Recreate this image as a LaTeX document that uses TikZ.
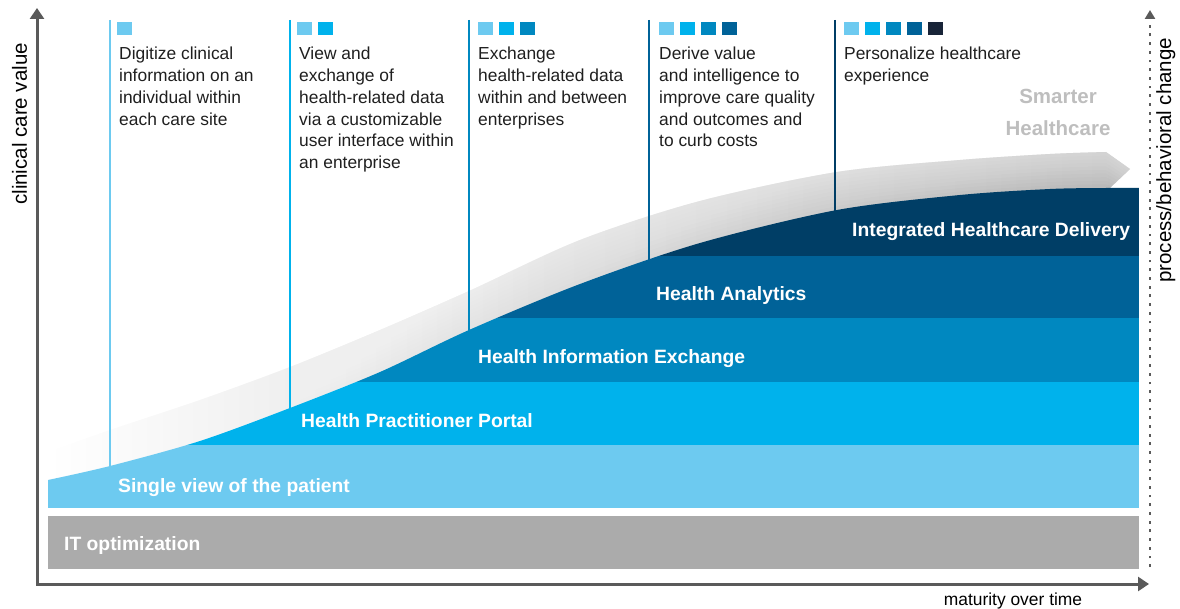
\documentclass[tikz,border=0pt]{standalone}
\usepackage{fontspec}
\setmainfont{Liberation Sans}
\usetikzlibrary{arrows.meta,calc}

\begin{document}
\begin{tikzpicture}[x=1pt,y=-1pt,
    bandlabel/.style={anchor=base west,inner sep=0pt,text=white,font=\fontsize{19.3}{23}\selectfont\bfseries},
    steptext/.style={anchor=base west,align=left,inner sep=0pt,text=black!88,font=\fontsize{17.4}{21.7}\selectfont},
    axislabel/.style={anchor=base west,inner sep=0pt,text=black,font=\fontsize{20.5}{24}\selectfont},
    sheen/.style={fill=white,fill opacity=0.06}]
    \definecolor{hc_gray}{RGB}{171,171,171}
    \definecolor{hc_lblue}{RGB}{109,202,240}
    \definecolor{hc_cyan}{RGB}{0,178,236}
    \definecolor{hc_mid}{RGB}{0,136,192}
    \definecolor{hc_dark}{RGB}{0,98,152}
    \definecolor{hc_navy}{RGB}{0,62,102}
    \definecolor{hc_black}{RGB}{24,36,56}
    \definecolor{hc_swoosh}{RGB}{184,184,184}
    \definecolor{hc_smart}{RGB}{190,190,190}
    \definecolor{hc_axis}{RGB}{90,90,90}
    \useasboundingbox (0,0) rectangle (1180,609);

    % upper and lower edge of the gray arrow
    \coordinate (t1) at (48,452);
    \coordinate (t2) at (110,430);
    \coordinate (t3) at (200,400);
    \coordinate (t4) at (290,367);
    \coordinate (t5) at (380,330);
    \coordinate (t6) at (469,291);
    \coordinate (t7) at (580,240);
    \coordinate (t8) at (700,201);
    \coordinate (t9) at (837,172);
    \coordinate (t10) at (960,160);
    \coordinate (t11) at (1050,154);
    \coordinate (t12) at (1106,152);
    \coordinate (b1) at (48,480);
    \coordinate (b2) at (110,466);
    \coordinate (b3) at (200,441);
    \coordinate (b4) at (290,408);
    \coordinate (b5) at (380,372);
    \coordinate (b6) at (469,330);
    \coordinate (b7) at (580,284);
    \coordinate (b8) at (700,243);
    \coordinate (b9) at (837,210);
    \coordinate (b10) at (960,195);
    \coordinate (b11) at (1050,189);
    \coordinate (b12) at (1106,188);
    \coordinate (tip) at (1130,169);
    \coordinate (notch) at (1110,188);

    % gray arrow behind the stages
    \shade[left color=white,right color=hc_swoosh] plot[smooth] coordinates {(t1) (t2) (t3) (t4) (t5) (t6) (t7) (t8) (t9) (t10) (t11) (t12)} -- (tip) -- (notch) -- (1110,500) -- (48,500) -- cycle;
    % lighter towards its upper edge
    \foreach \f in {0.1,0.2,0.3,0.4,0.5,0.6,0.7,0.8,0.9}
      \fill[sheen] plot[smooth] coordinates {(t1) (t2) (t3) (t4) (t5) (t6) (t7) (t8) (t9) (t10) (t11) (t12)} -- (tip) -- ($(tip)!\f!(notch)$) -- plot[smooth] coordinates {($(t12)!\f!(b12)$) ($(t11)!\f!(b11)$) ($(t10)!\f!(b10)$) ($(t9)!\f!(b9)$) ($(t8)!\f!(b8)$) ($(t7)!\f!(b7)$) ($(t6)!\f!(b6)$) ($(t5)!\f!(b5)$) ($(t4)!\f!(b4)$) ($(t3)!\f!(b3)$) ($(t2)!\f!(b2)$) ($(t1)!\f!(b1)$)} -- cycle;

    % stage lines
    \draw[hc_lblue,line width=1.5pt] (110,20) -- (110,500);
    \draw[hc_cyan,line width=1.5pt] (290,20) -- (290,500);
    \draw[hc_mid,line width=1.5pt] (469,20) -- (469,500);
    \draw[hc_dark,line width=1.5pt] (649,20) -- (649,500);
    \draw[hc_navy,line width=1.5pt] (835,20) -- (835,500);

    % stacked stages under the curve
    \begin{scope}
    \clip (48,508) -- plot[smooth] coordinates {(b1) (b2) (b3) (b4) (b5) (b6) (b7) (b8) (b9) (b10) (b11) (b12) (1139,188)} -- (1139,508) -- cycle;
    \fill[hc_lblue] (48,445) rectangle (1139,508);
    \fill[hc_cyan] (48,382) rectangle (1139,445);
    \fill[hc_mid] (48,318) rectangle (1139,382);
    \fill[hc_dark] (48,256) rectangle (1139,318);
    \fill[hc_navy] (48,150) rectangle (1139,256);
    \end{scope}
    \fill[hc_gray] (48,516) rectangle (1139,569);

    \node[bandlabel] (itopt) at (64,550) {IT optimization};
    \node[bandlabel] (single) at (118,492) {Single view of the patient};
    \node[bandlabel] (portal) at (301,427) {Health Practitioner Portal};
    \node[bandlabel] (exchange) at (478,363) {Health Information Exchange};
    \node[bandlabel] (analytics) at (656,301) {Health Analytics};
    \node[bandlabel] (delivery) at (852,237) {Integrated Healthcare Delivery};

    % squares
    \fill[hc_lblue] (117,22) rectangle ++(15,13);
    \fill[hc_lblue] (297,22) rectangle ++(15,13);
    \fill[hc_cyan] (318,22) rectangle ++(15,13);
    \fill[hc_lblue] (478,22) rectangle ++(15,13);
    \fill[hc_cyan] (499,22) rectangle ++(15,13);
    \fill[hc_mid] (520,22) rectangle ++(15,13);
    \fill[hc_lblue] (659,22) rectangle ++(15,13);
    \fill[hc_cyan] (680,22) rectangle ++(15,13);
    \fill[hc_mid] (701,22) rectangle ++(15,13);
    \fill[hc_dark] (722,22) rectangle ++(15,13);
    \fill[hc_lblue] (844,22) rectangle ++(15,13);
    \fill[hc_cyan] (865,22) rectangle ++(15,13);
    \fill[hc_mid] (886,22) rectangle ++(15,13);
    \fill[hc_dark] (907,22) rectangle ++(15,13);
    \fill[hc_black] (928,22) rectangle ++(15,13);

    % base of each text is its last line
    \node[steptext] (digitize) at (119,125.1) {Digitize clinical\\information on an\\individual within\\each care site};
    \node[steptext] (view) at (299,168.5) {View and\\exchange of\\health-related data\\via a customizable\\user interface within\\an enterprise};
    \node[steptext] (share) at (478,125.1) {Exchange\\health-related data\\within and between\\enterprises};
    \node[steptext] (derive) at (659,146.8) {Derive value\\and intelligence to\\improve care quality\\and outcomes and\\to curb costs};
    \node[steptext] (personal) at (844,81.7) {Personalize healthcare\\experience};

    \node[align=center,inner sep=0pt,text=hc_smart,font=\fontsize{20.5}{32}\selectfont\bfseries,anchor=base] (smarter) at (1058,136) {Smarter\\Healthcare};

    % axes
    \coordinate (ytop) at (37,8);
    \coordinate (origin) at (37,584);
    \coordinate (xend) at (1149,584);
    \coordinate (rbottom) at (1150,567);
    \coordinate (rtop) at (1150,10);
    \draw[hc_axis,line width=3pt,{Triangle[length=11pt,width=14pt]}-{Triangle[length=11pt,width=14pt]}] (ytop) -- (origin) -- (xend);
    \draw[hc_axis,line width=2.6pt,dash pattern=on 2.8pt off 5.9pt,-{Triangle[length=9pt,width=10pt]}] (rbottom) -- (rtop);

    \node[axislabel,rotate=90] (cvalue) at (27,205) {clinical care value};
    \node[axislabel,rotate=90] (pchange) at (1171,283) {process/behavioral change};
    \node[axislabel,anchor=base,font=\fontsize{17.4}{21}\selectfont] (maturity) at (1013,605) {maturity over time};
\end{tikzpicture}
\end{document}
